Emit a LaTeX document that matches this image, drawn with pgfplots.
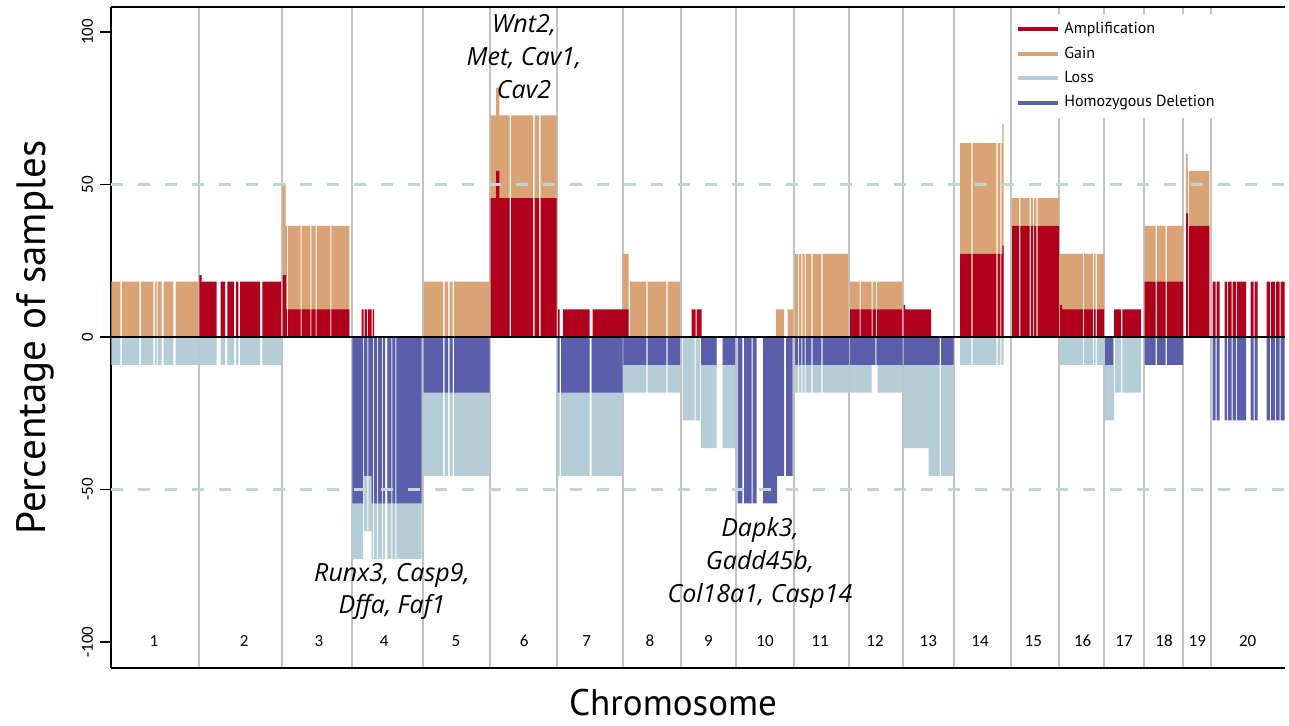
\documentclass[border=0pt]{standalone}
\usepackage{pgfplots}
\pgfplotsset{compat=1.18}
\usepackage{pgfplotstable}
\usepackage{fontspec}
\setmainfont{PT Sans}
\newfontfamily\carlito{Carlito}
\newfontfamily\osans{Open Sans}

\definecolor{ampcol}{RGB}{176,0,28}
\definecolor{gaincol}{RGB}{218,163,118}
\definecolor{losscol}{RGB}{181,205,214}
\definecolor{hdcol}{RGB}{91,94,170}
\definecolor{refcol}{RGB}{188,216,214}
\definecolor{chrcol}{RGB}{195,195,195}

% x = genome position (plot units), y = percent of samples; each row starts a step
\pgfplotstableread{
x y
111 0
111.5 18.2
120.5 0
122 18.2
139.5 0
141 18.2
153.5 0
155 18.2
156.7 0
157.7 18.2
161.7 0
163.7 18.2
173.3 0
175.7 18.2
198.3 0
282.5 50
285.5 36.4
287 0
288 36.4
300.5 0
301.5 36.4
310.3 0
311.3 36.4
315.5 0
316.5 36.4
330.3 0
331.3 36.4
349.3 0
423.5 18.2
443 0
444.5 18.2
448 0
449.5 18.2
452.5 0
454 18.2
489.5 0
490.7 72.7
496 81.8
499.3 72.7
509.5 0
511 72.7
533 0
534.5 72.7
539 0
540.5 72.7
556.7 0
622.7 27.3
628.5 0
630 18.2
646.3 0
647.7 18.2
666.3 0
667.7 18.2
680 0
776 9.1
784 0
787.5 9.1
793 0
795 27.3
798 0
799 27.3
801.3 0
802.3 27.3
804.7 0
805.7 27.3
811.3 0
812.5 27.3
821.3 0
822.5 27.3
848.3 0
850 18.2
859.5 0
860.7 18.2
871.5 0
872.7 18.2
876 0
877.2 18.2
902 0
960 63.6
971.3 0
972.5 63.6
996.3 0
997.5 63.6
1000.3 0
1001.3 63.6
1002.3 70
1003.5 0
1012 45.5
1019 0
1020.3 45.5
1029.7 0
1030.8 45.5
1033 0
1034 45.5
1036.3 0
1037.5 45.5
1059 0
1060 27.3
1083 0
1084.2 27.3
1093 0
1094 27.3
1095.7 0
1096.8 27.3
1104 0
1144.5 36.4
1155.7 0
1156.8 36.4
1165.7 0
1166.8 36.4
1183 0
1186 60
1187.5 54.5
1188 0
1189 54.5
1209.3 0
}\gaintab

\pgfplotstableread{
x y
111 0
199.3 20.3
201.7 18.2
216.7 0
220.7 18.2
225 0
227.3 18.2
234 0
236 18.2
238.3 0
240 18.2
260 0
262.3 18.2
281 0
282.5 20.3
286 9.1
287 0
288 9.1
300.5 0
301.5 9.1
310.3 0
311.3 9.1
315.5 0
316.5 9.1
330.3 0
331.3 9.1
349.3 0
361.5 9.1
363.5 0
364.5 9.1
367 0
368 9.1
371.5 0
372.5 9.1
374 0
490.7 45.5
496 54.5
499.3 45.5
509.5 0
511 45.5
533 0
534.5 45.5
539 0
540.5 45.5
556.7 0
558 9.1
559.5 0
563 9.1
589.5 0
592.5 9.1
628.5 0
691.5 9.1
695.5 0
696.5 9.1
701.5 0
850 9.1
859.5 0
860.7 9.1
871.5 0
872.7 9.1
876 0
877.2 9.1
902 0
903.5 10.5
905 9.1
931 0
960 27.3
971.3 0
972.5 27.3
996.3 0
997.5 27.3
1000.3 0
1001.3 27.3
1002.3 30
1003.5 0
1012 36.4
1019 0
1020.3 36.4
1029.7 0
1030.8 36.4
1033 0
1034 36.4
1036.3 0
1037.5 36.4
1059 0
1060 10.5
1062 9.1
1083 0
1084.2 9.1
1093 0
1094 9.1
1095.7 0
1096.8 9.1
1104 0
1114 9.1
1121.2 0
1122.4 9.1
1141 0
1144.5 18.2
1155.7 0
1156.8 18.2
1165.7 0
1166.8 18.2
1183 0
1186 40.5
1188 0
1189 36.4
1209.3 0
1212.5 18.2
1215.5 0
1216.5 18.2
1219.5 0
1224.5 18.2
1227 0
1228 18.2
1231.5 0
1232.5 18.2
1236 0
1237 18.2
1246 0
1250.5 18.2
1253.5 0
1254.5 18.2
1257.5 0
1266.5 18.2
1270 0
1271 18.2
1275 0
1276 18.2
1279.5 0
1280.5 18.2
1284.5 0
}\amptab

\pgfplotstableread{
x y
111 0
111.5 -9.1
120.5 0
122 -9.1
139.5 0
141 -9.1
153.5 0
155 -9.1
156.7 0
157.7 -9.1
161.7 0
163.7 -9.1
173.3 0
175.7 -9.1
198.3 0
199.3 -9.1
216.7 0
220.7 -9.1
225 0
227.3 -9.1
234 0
236 -9.1
238.3 0
240 -9.1
260 0
262.3 -9.1
281 0
352.3 -72.7
363 0
364 -63.6
367.3 0
368.3 -63.6
371.5 -72.7
373 0
374 -72.7
377 0
378 -72.7
382 0
383 -72.7
385 0
387.3 -72.7
391.3 0
392.3 -72.7
395.3 0
396.3 -72.7
421.5 0
423.5 -45.5
443 0
444.5 -45.5
448 0
449.5 -45.5
452.5 0
454 -45.5
489.5 0
557.5 -45.5
559.5 0
561 -45.5
589.5 0
591.5 -45.5
622.5 0
623.3 -18.2
646.3 0
647.7 -18.2
666.3 0
667.7 -18.2
680 0
682.5 -27.3
694.5 0
695.5 -27.3
700 0
701 -36.4
716.5 0
722.5 -36.4
735 0
795 -18.2
798 0
799 -18.2
801.3 0
802.3 -18.2
804.7 0
805.7 -18.2
811.3 0
812.5 -18.2
821.3 0
822.5 -18.2
849 0
850 -18.2
871.5 -9.1
877.5 -18.2
902.5 0
903.5 -36.4
928.5 -45.5
939.5 0
941 -45.5
953.5 0
960 -9.1
971.3 0
972.5 -9.1
996.3 0
997.5 -9.1
1000.3 0
1001.3 -9.1
1003.5 0
1060 -9.1
1083 0
1084.2 -9.1
1093 0
1094 -9.1
1095.7 0
1096.8 -9.1
1104 0
1105 -27.3
1114 0
1115 -18.2
1121.2 0
1122.4 -18.2
1141 0
}\losstab

\pgfplotstableread{
x y
111 0
352.3 -54.5
363 0
364 -45.5
367.3 0
368.3 -45.5
371.5 -54.5
373 0
374 -54.5
377 0
378 -54.5
382 0
383 -54.5
385 0
387.3 -54.5
391.3 0
392.3 -54.5
395.3 0
396.3 -54.5
421.5 0
423.5 -18.2
443 0
444.5 -18.2
448 0
449.5 -18.2
452.5 0
454 -18.2
489.5 0
557.5 -18.2
559.5 0
561 -18.2
589.5 0
591.5 -18.2
622.5 0
623.3 -9.1
646.3 0
647.7 -9.1
666.3 0
667.7 -9.1
680 0
701 -9.1
716.5 0
722.5 -9.1
735 0
737.5 -54.5
742.3 0
744 -54.5
751.5 0
752.5 -54.5
756.7 0
763 -54.5
777 -45.5
784 0
786 -45.5
792.5 0
795 -9.1
798 0
799 -9.1
801.3 0
802.3 -9.1
804.7 0
805.7 -9.1
811.3 0
812.5 -9.1
821.3 0
822.5 -9.1
849 0
850 -9.1
875 0
876.5 -9.1
902.5 0
903.5 -9.1
939.5 0
941 -9.1
953.5 0
1105 -9.1
1113 0
1144.5 -9.1
1155.7 0
1156.8 -9.1
1165.7 0
1166.8 -9.1
1183 0
1212.5 -27.3
1215.5 0
1216.5 -27.3
1219.5 0
1224.5 -27.3
1227 0
1228 -27.3
1231.5 0
1232.5 -27.3
1236 0
1237 -27.3
1246 0
1250.5 -27.3
1253.5 0
1254.5 -27.3
1257.5 0
1266.5 -27.3
1270 0
1271 -27.3
1275 0
1276 -27.3
1279.5 0
1280.5 -27.3
1284.5 0
}\hdtab

\begin{document}
\begin{tikzpicture}
\useasboundingbox (-55.5pt,-29pt) rectangle (589pt,334pt);
\begin{axis}[
    at={(0,0)}, anchor=south west,
    scale only axis, width=587pt, height=330.5pt,
    xmin=111, xmax=1285, ymin=-108.5, ymax=108.2,
    axis x line*=box, axis y line*=left,
    axis line style={line width=1pt, black},
    xtick={199,282,352,423,490,557,623,681,736,794,849,903,954,1011,1059,1104,1144,1183,1211},
    xticklabels={}, xtick style={draw=none},
    xmajorgrids, major grid style={chrcol, line width=0.7pt},
    ytick={-100,-50,0,50,100},
    ytick style={black, line width=0.8pt},
    tick align=outside, major tick length=5.5pt,
    /pgf/number format/assume math mode=true,
    yticklabel style={rotate=90, anchor=south, font=\carlito\fontsize{8.5}{10}\selectfont},
    ylabel={Percentage of samples},
    every axis y label/.style={at={(axis description cs:0,0.5)}, xshift=-38pt, rotate=90, anchor=center, font=\fontsize{20.5}{24}\selectfont},
    xlabel={Chromosome},
    every axis x label/.style={at={(axis description cs:0.4787,0)}, yshift=-17.5pt, anchor=center, font=\fontsize{18.5}{22}\selectfont},
    legend image code/.code={\draw[#1, line width=2pt] (0pt,0pt) -- (20pt,0pt);},
    legend style={at={(axis cs:1012,106)}, anchor=north west, draw=none, fill=white,
      font=\fontsize{8}{9.5}\selectfont, row sep=1.1pt, inner xsep=2pt, inner ysep=2pt},
    legend cell align=left,
    clip=true,
  ]
  \addlegendimage{color=ampcol}
  \addlegendimage{color=gaincol}
  \addlegendimage{color=losscol}
  \addlegendimage{color=hdcol}

  \addplot[const plot, fill=gaincol, draw=none] table {\gaintab};
  \addplot[const plot, fill=ampcol, draw=none] table {\amptab};
  \addplot[const plot, fill=losscol, draw=none] table {\losstab};
  \addplot[const plot, fill=hdcol, draw=none] table {\hdtab};

  \addplot[refcol, line width=1.2pt, dash pattern=on 6pt off 7.5pt] coordinates {(111,50) (1285,50)};
  \addplot[refcol, line width=1.2pt, dash pattern=on 6pt off 7.5pt] coordinates {(111,-50) (1285,-50)};
  \addplot[black, line width=0.9pt] coordinates {(111,0) (1285,0)};

  \begin{scope}[every node/.style={font=\carlito\fontsize{8.5}{10}\selectfont}]
  \node at (axis cs:154,-99.6) {1};
  \node at (axis cs:244.3,-99.6) {2};
  \node at (axis cs:319,-99.6) {3};
  \node at (axis cs:384.3,-99.6) {4};
  \node at (axis cs:456,-99.6) {5};
  \node at (axis cs:524.3,-99.6) {6};
  \node at (axis cs:586.7,-99.6) {7};
  \node at (axis cs:650,-99.6) {8};
  \node at (axis cs:708.3,-99.6) {9};
  \node at (axis cs:765,-99.6) {10};
  \node at (axis cs:820,-99.6) {11};
  \node at (axis cs:875,-99.6) {12};
  \node at (axis cs:928.3,-99.6) {13};
  \node at (axis cs:980,-99.6) {14};
  \node at (axis cs:1033.3,-99.6) {15};
  \node at (axis cs:1082.7,-99.6) {16};
  \node at (axis cs:1124,-99.6) {17};
  \node at (axis cs:1164,-99.6) {18};
  \node at (axis cs:1197.3,-99.6) {19};
  \node at (axis cs:1247.7,-99.6) {20};
  \end{scope}

  \node[align=center, font=\osans\itshape\fontsize{12.5}{16.5}\selectfont] at (axis cs:524,92) {Wnt2,\\Met, Cav1,\\Cav2};
  \node[align=center, font=\osans\itshape\fontsize{12.5}{16}\selectfont] at (axis cs:392,-83.3) {Runx3, Casp9,\\Dffa, Faf1};
  \node[align=center, font=\osans\itshape\fontsize{12.5}{16.5}\selectfont] at (axis cs:760,-74.1) {Dapk3,\\Gadd45b,\\Col18a1, Casp14};

  \legend{Amplification, Gain, Loss, Homozygous Deletion}
\end{axis}
\end{tikzpicture}
\end{document}
